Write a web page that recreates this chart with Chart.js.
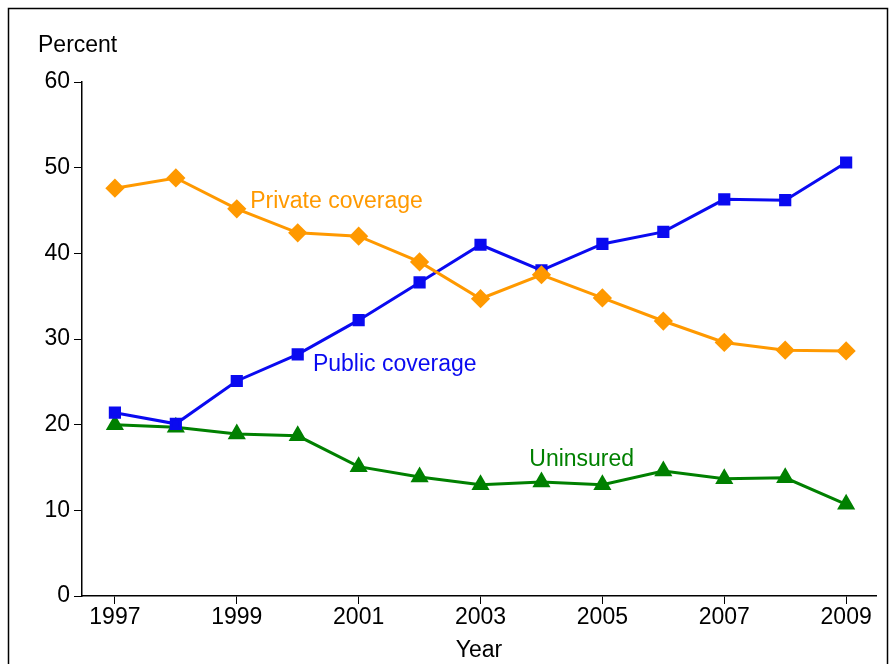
<!DOCTYPE html>
<html>
<head>
<meta charset="utf-8">
<script src="https://cdn.jsdelivr.net/npm/chart.js@4"></script>
<style>
  html, body { margin: 0; padding: 0; background: #fff; }
  #wrap { width: 895px; height: 664px; }
</style>
</head>
<body>
<div id="wrap"><canvas id="chart" width="895" height="664"></canvas></div>
<script>
// =======================
// Data
// =======================
const years = [1997, 1998, 1999, 2000, 2001, 2002, 2003, 2004, 2005, 2006, 2007, 2008, 2009];
const privateCoverage = [47.6, 48.8, 45.2, 42.4, 42.0, 39.0, 34.7, 37.5, 34.8, 32.1, 29.6, 28.7, 28.6];
const publicCoverage = [21.4, 20.1, 25.1, 28.2, 32.2, 36.6, 41.0, 38.0, 41.1, 42.5, 46.3, 46.2, 50.6];
const uninsured = [20.0, 19.7, 18.9, 18.7, 15.1, 13.9, 13.0, 13.3, 13.0, 14.6, 13.7, 13.8, 10.7];
const xTicks = [1997, 1999, 2001, 2003, 2005, 2007, 2009];

const ORANGE = "#ff9900";
const BLUE = "#0a0af0";
const GREEN = "#008000";
const FONT = "Liberation Sans, Arial, sans-serif";
const FS = 23;

function pts(vals) {
  return years.map((y, i) => ({ x: y, y: vals[i] }));
}

// Frame + in-plot labels
const decor = {
  id: "decor",
  afterDraw(chart) {
    const ctx = chart.ctx;
    const xs = chart.scales.x, ys = chart.scales.y;
    ctx.save();
    ctx.strokeStyle = "#000";
    ctx.lineWidth = 1.5;
    ctx.strokeRect(8.5, 8.5, 879, 700);
    ctx.font = FS + "px " + FONT;
    ctx.textBaseline = "middle";
    ctx.textAlign = "left";
    ctx.fillStyle = "#000";
    ctx.fillText("Percent", 38, 46);
    const label = (t, c, x, y) => {
      ctx.fillStyle = c;
      ctx.fillText(t, xs.getPixelForValue(x), ys.getPixelForValue(y));
    };
    label("Private coverage", ORANGE, 1999.22, 46.0);
    label("Public coverage", BLUE, 2000.25, 27.0);
    label("Uninsured", GREEN, 2003.8, 15.9);
    ctx.restore();
  }
};

new Chart(document.getElementById("chart"), {
  type: "line",
  data: {
    datasets: [
      { data: pts(privateCoverage), borderColor: ORANGE, backgroundColor: ORANGE, pointStyle: "rectRot", pointRadius: 7.5 },
      { data: pts(publicCoverage), borderColor: BLUE, backgroundColor: BLUE, pointStyle: "rect", pointRadius: 6.5 },
      { data: pts(uninsured), borderColor: GREEN, backgroundColor: GREEN, pointStyle: "triangle", pointRadius: 7.5 }
    ].map(d => Object.assign(d, { borderWidth: 3, tension: 0, pointHoverRadius: d.pointRadius }))
  },
  options: {
    responsive: false,
    animation: false,
    layout: { padding: { left: 0, top: 82, right: 19, bottom: 0 } },
    plugins: { legend: { display: false }, tooltip: { enabled: false } },
    scales: {
      x: {
        type: "linear",
        min: 1996.46,
        max: 2009.49,
        afterBuildTicks: s => { s.ticks = xTicks.map(v => ({ value: v })); },
        afterFit: s => { s.height = 68; },
        border: { color: "#000", width: 1.5 },
        grid: { drawOnChartArea: false, drawTicks: true, tickLength: 8, color: "#000" },
        ticks: { color: "#000", font: { size: FS, family: FONT }, padding: 0, callback: v => String(v), maxRotation: 0 },
        title: { display: true, text: "Year", color: "#000", font: { size: FS, family: FONT }, padding: { top: 0, bottom: 0 } }
      },
      y: {
        min: 0,
        max: 60,
        afterFit: s => { s.width = 82; },
        border: { color: "#000", width: 1.5 },
        grid: { drawOnChartArea: false, drawTicks: true, tickLength: 8, color: "#000" },
        ticks: { stepSize: 10, color: "#000", font: { size: FS, family: FONT }, padding: 4 }
      }
    }
  },
  plugins: [decor]
});
</script>
</body>
</html>
